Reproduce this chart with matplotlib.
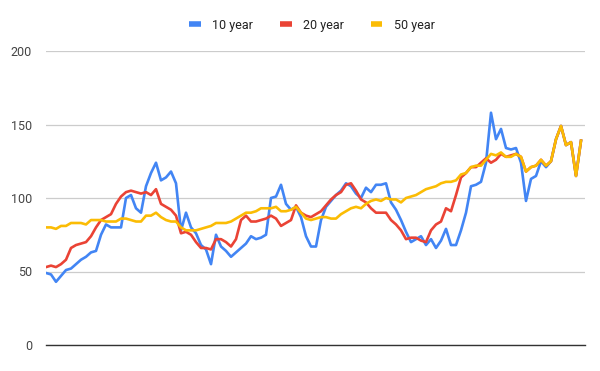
import numpy as np
import matplotlib
matplotlib.use("Agg")
import matplotlib.pyplot as plt
from matplotlib.lines import Line2D

plt.rcParams['font.family'] = ['Roboto', 'DejaVu Sans']

# values, one per period
ten_year = [49, 48, 43, 47, 51, 52, 55, 58, 60, 63, 64, 75, 82, 80, 80, 80, 100, 102, 93, 90,
            108, 117, 124, 112, 114, 118, 110, 78, 90, 80, 76, 68, 65, 55, 75, 67, 64, 60, 63, 66,
            69, 74, 72, 73, 75, 100, 101, 109, 96, 92, 94, 87, 74, 67, 67, 85, 94, 98, 102, 105,
            110, 108, 103, 100, 107, 104, 109, 109, 110, 97, 92, 85, 77, 70, 72, 74, 68, 72, 66, 71,
            79, 68, 68, 78, 90, 108, 109, 111, 124, 158, 140, 147, 134, 133, 134, 124, 98, 113, 115, 125,
            121, 125, 140, 149, 136, 138, 115, 139]
twenty_year = [53, 54, 53, 55, 58, 66, 68, 69, 70, 74, 80, 85, 87, 89, 96, 101, 104, 105, 104, 103,
               104, 102, 106, 96, 94, 92, 88, 76, 77, 75, 70, 66, 66, 65, 72, 72, 70, 67, 72, 85,
               88, 84, 84, 85, 86, 88, 86, 81, 83, 85, 95, 90, 88, 87, 89, 91, 95, 99, 102, 104,
               109, 110, 105, 99, 97, 93, 90, 90, 90, 85, 82, 78, 72, 73, 73, 71, 70, 78, 82, 84,
               93, 91, 102, 114, 117, 121, 121, 124, 127, 124, 126, 130, 128, 129, 130, 128, 118, 121, 122, 126,
               122, 125, 140, 149, 136, 138, 115, 139]
fifty_year = [80, 80, 79, 81, 81, 83, 83, 83, 82, 85, 85, 85, 84, 84, 84, 86, 86, 85, 84, 84,
              88, 88, 90, 87, 85, 84, 84, 80, 78, 78, 78, 79, 80, 81, 83, 83, 83, 84, 86, 88,
              90, 90, 91, 93, 93, 93, 94, 91, 91, 92, 94, 90, 86, 85, 86, 87, 87, 86, 86, 89,
              91, 93, 94, 93, 96, 98, 99, 98, 100, 99, 99, 97, 100, 101, 102, 104, 106, 107, 108, 110,
              111, 111, 112, 116, 117, 121, 122, 122, 126, 130, 129, 131, 128, 128, 130, 128, 118, 121, 122, 126,
              122, 125, 140, 149, 136, 138, 115, 139]
series_names = ['10 year', '20 year', '50 year']
colors = ['#4285F4', '#EA4335', '#FBBC04']
y_ticks = [0, 50, 100, 150, 200]

fig = plt.figure(figsize=(6, 3.71), dpi=100)
ax = fig.add_axes([46 / 600, 1 - 345 / 371, 539 / 600, 294 / 371])

x = np.arange(len(ten_year))
for vals, c in zip([ten_year, twenty_year, fifty_year], colors):
    ax.plot(x, vals, color=c, lw=1.9, solid_joinstyle='round', zorder=3)

ax.set_xlim(0, 107.8)
ax.set_ylim(0, 200)
ax.set_yticks(y_ticks)
ax.set_yticklabels([str(t) for t in y_ticks], color='#444444', fontsize=9)
ax.set_xticks([])
ax.tick_params(axis='y', length=0, pad=10)
ax.grid(axis='y', color='#cccccc', lw=0.9)
ax.set_axisbelow(True)
for s in ['top', 'right', 'left']:
    ax.spines[s].set_visible(False)
ax.spines['bottom'].set_color('#333333')
ax.spines['bottom'].set_linewidth(1.0)

handles = [Line2D([], [], color=c, lw=4, solid_capstyle='butt') for c in colors]
fig.legend(handles, series_names, loc='center', bbox_to_anchor=(0.52, 1 - 25 / 371),
           ncol=3, frameon=False, fontsize=9, handlelength=0.9, handletextpad=0.9,
           columnspacing=2.2, labelcolor='#222222')

fig.savefig('out.png', dpi=100)
